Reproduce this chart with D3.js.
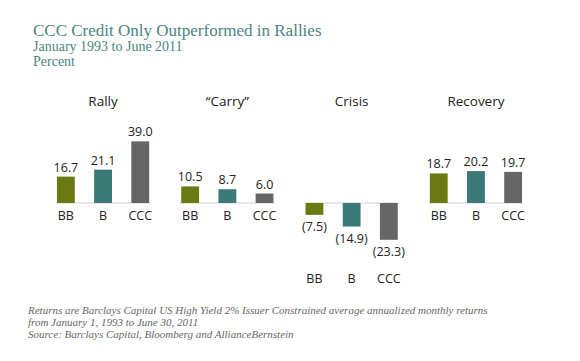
<!DOCTYPE html>
<html>
<head>
<meta charset="utf-8">
<script src="https://cdn.jsdelivr.net/npm/d3@7"></script>
<style>
  body { margin: 0; background: #fff; }
  svg text { font-family: "Open Sans", sans-serif; }
</style>
</head>
<body>
<div class="chart"></div>
<script>
const periods = ["Rally", "\u201cCarry\u201d", "Crisis", "Recovery"];
const ratings = ["BB", "B", "CCC"];
const values = [
  [16.7, 21.1, 39.0],
  [10.5, 8.7, 6.0],
  [-7.5, -14.9, -23.3],
  [18.7, 20.2, 19.7]
];
const notes = [
  "Returns are Barclays Capital US High Yield 2% Issuer Constrained average annualized monthly returns",
  "from January 1, 1993 to June 30, 2011",
  "Source: Barclays Capital, Bloomberg and AllianceBernstein"
];

const width = 580, height = 361;
const colors = {BB: "#6b7914", B: "#3b7977", CCC: "#666666"};
const teal = "#4a8482";
const serif = '"Liberation Serif", "DejaVu Serif", serif';

const svg = d3.select('.chart').append('svg')
    .attr('width', width)
    .attr('height', height);

// titles
svg.append('text').attr('x', 33).attr('y', 36)
    .attr('fill', teal)
    .style('font-family', serif)
    .style('font-size', '17px')
    .text('CCC Credit Only Outperformed in Rallies');
svg.append('text').attr('x', 33).attr('y', 51)
    .attr('fill', teal)
    .style('font-family', serif)
    .style('font-size', '14px')
    .text('January 1993 to June 2011');
svg.append('text').attr('x', 33).attr('y', 66)
    .attr('fill', teal)
    .style('font-family', serif)
    .style('font-size', '14px')
    .text('Percent');

// scales
const x0 = d3.scaleBand().domain(periods).range([26, 553]).padding(0.24);
const x1 = d3.scaleBand().domain(ratings).range([0, x0.bandwidth()])
    .paddingInner(0.52).paddingOuter(0.03);
const y = d3.scaleLinear().domain([-30, 45]).range([203 + 30 * 1.58, 203 - 45 * 1.58]);

const groups = svg.selectAll('.group')
    .data(periods.map((p, i) => ({period: p, vals: values[i]})))
    .enter().append('g')
    .attr('class', 'group')
    .attr('transform', d => `translate(${x0(d.period)},0)`);

// group titles
groups.append('text')
    .attr('x', x0.bandwidth() / 2)
    .attr('y', 106)
    .attr('text-anchor', 'middle')
    .attr('fill', '#222')
    .style('font-size', '13.5px')
    .text(d => d.period);

// baseline
groups.append('line')
    .attr('x1', 0).attr('x2', x0.bandwidth())
    .attr('y1', y(0)).attr('y2', y(0))
    .attr('stroke', '#d0d0d0')
    .attr('stroke-width', 1);

groups.each(function(d) {
  const g = d3.select(this);
  const items = ratings.map((r, j) => ({rating: r, v: d.vals[j]}));
  const minV = d3.min(d.vals);
  const labelY = minV < 0 ? y(minV) + 43 : y(0) + 17;

  g.selectAll('rect').data(items).enter().append('rect')
      .attr('x', e => x1(e.rating))
      .attr('width', x1.bandwidth())
      .attr('y', e => y(Math.max(0, e.v)))
      .attr('height', e => Math.abs(y(e.v) - y(0)))
      .attr('fill', e => colors[e.rating]);

  g.selectAll('.val').data(items).enter().append('text')
      .attr('class', 'val')
      .attr('x', e => x1(e.rating) + x1.bandwidth() / 2)
      .attr('y', e => e.v >= 0 ? y(e.v) - 5 : y(e.v) + 16)
      .attr('text-anchor', 'middle')
      .attr('fill', '#222')
      .style('font-size', '12.5px')
      .text(e => e.v >= 0 ? e.v.toFixed(1) : `(${Math.abs(e.v).toFixed(1)})`);

  g.selectAll('.lab').data(items).enter().append('text')
      .attr('class', 'lab')
      .attr('x', e => x1(e.rating) + x1.bandwidth() / 2)
      .attr('y', labelY)
      .attr('text-anchor', 'middle')
      .attr('fill', '#222')
      .style('font-size', '12.5px')
      .text(e => e.rating);
});

// footnotes
svg.selectAll('.note').data(notes).enter().append('text')
    .attr('class', 'note')
    .attr('x', 28)
    .attr('y', (d, i) => 314 + i * 12)
    .attr('fill', '#666')
    .style('font-family', serif)
    .style('font-style', 'italic')
    .style('font-size', '11px')
    .text(d => d);
</script>
</body>
</html>
